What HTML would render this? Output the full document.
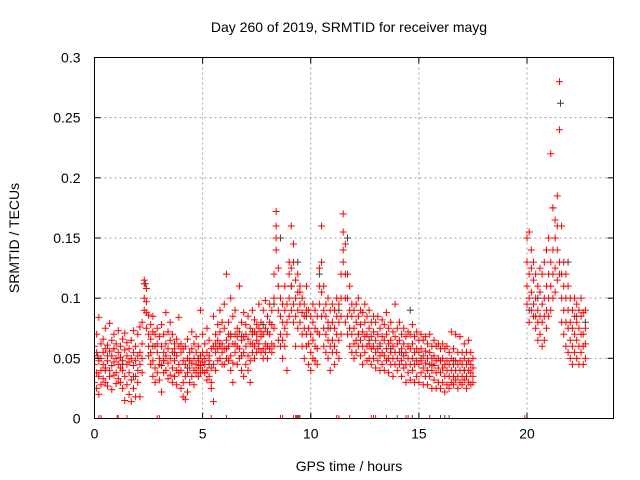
<!DOCTYPE html>
<html><head><meta charset="utf-8"><style>
html,body{margin:0;padding:0;background:#fff;}
svg{display:block;font-family:"Liberation Sans",sans-serif;}
</style></head><body>
<svg id="chart" width="640" height="480" viewBox="0 0 640 480">
<rect x="0" y="0" width="640" height="480" fill="#fff"/>
<text x="349" y="32" font-size="14" text-anchor="middle" fill="#000">Day 260 of 2019, SRMTID for receiver mayg</text>
<text x="349" y="471" font-size="14" text-anchor="middle" fill="#000">GPS time / hours</text>
<text x="19" y="238" font-size="14" text-anchor="middle" fill="#000" transform="rotate(-90 19 238)">SRMTID / TECUs</text>
<g id="grid"></g>
<g id="gray"></g>
<g id="red"></g>
<g id="axes"></g>
</svg>
<script>
// data (values in thousandths of TECU)
const xTicks=[0,5,10,15,20];
const yTicks=[0,0.05,0.1,0.15,0.2,0.25,0.3];
const yTickLabels=["0","0.05","0.1","0.15","0.2","0.25","0.3"];
const redHours=[0,0.1,0.2,0.3,0.4,0.5,0.6,0.7,0.8,0.9,1,1.1,1.2,1.3,1.4,1.5,1.6,1.7,1.8,1.9,2,2.1,2.2,2.3,2.4,2.5,2.6,2.7,2.8,2.9,3,3.1,3.2,3.3,3.4,3.5,3.6,3.7,3.8,3.9,4,4.1,4.2,4.3,4.4,4.5,4.6,4.7,4.8,4.9,5,5.1,5.2,5.3,5.4,5.5,5.6,5.7,5.8,5.9,6,6.1,6.2,6.3,6.4,6.5,6.6,6.7,6.8,6.9,7,7.1,7.2,7.3,7.4,7.5,7.6,7.7,7.8,7.9,8,8.1,8.2,8.3,8.4,8.5,8.6,8.7,8.8,8.9,9,9.1,9.2,9.3,9.4,9.5,9.6,9.7,9.8,9.9,10,10.1,10.2,10.3,10.4,10.5,10.6,10.7,10.8,10.9,11,11.1,11.2,11.3,11.4,11.5,11.6,11.7,11.8,11.9,12,12.1,12.2,12.3,12.4,12.5,12.6,12.7,12.8,12.9,13,13.1,13.2,13.3,13.4,13.5,13.6,13.7,13.8,13.9,14,14.1,14.2,14.3,14.4,14.5,14.6,14.7,14.8,14.9,15,15.1,15.2,15.3,15.4,15.5,15.6,15.7,15.8,15.9,16,16.1,16.2,16.3,16.4,16.5,16.6,16.7,16.8,16.9,17,17.1,17.2,17.3,17.4,17.5,20,20.1,20.2,20.3,20.4,20.5,20.6,20.7,20.8,20.9,21,21.1,21.2,21.3,21.4,21.5,21.6,21.7,21.8,21.9,22,22.1,22.2,22.3,22.4,22.5,22.6,22.7];
const redValues=[
[45,60,30,52],[38,55,70,25],[48,84,35,20],[50,40,62,28],[45,55,33,66],[58,42,75,30],[48,27,61,52],[40,79,35,56],[52,44,65,24],[47,58,36,70],
[50,38,62,29],[55,45,73,33],[42,60,30,51],[48,66,25,40],[57,35,71,15],[45,52,28,63],[38,58,20,47],[50,14,65,32],[44,55,25,73],[35,60,48,18],
[52,40,70,30],[55,45,76,18],[50,62,38,80],[115,100,112,90],[108,97,88,75],[86,70,60,52],[78,55,66,45],[72,48,85,35],[60,42,70,30],[55,75,38,62],
[50,68,32,45],[60,44,78,22],[55,38,70,48],[62,88,40,52],[58,46,72,33],[50,65,36,80],[55,42,70,30],[48,62,35,58],[52,40,66,28],[60,45,84,38],
[55,40,62,25],[48,30,58,18],[45,60,35,16],[50,38,66,22],[42,55,30,48],[46,72,35,58],[50,40,62,28],[45,55,38,68],[48,35,60,42],[52,44,90,38],
[47,70,40,55],[50,38,62,45],[55,40,75,32],[48,65,35,52],[42,58,30,25],[60,45,85,14],[55,70,40,62],[65,48,78,58],[60,90,50,72],[62,45,80,55],
[58,75,45,95],[65,50,120,58],[60,80,48,70],[68,52,100,40],[62,85,46,30],[70,55,90,62],[60,75,45,68],[72,58,110,50],[65,80,52,40],[68,55,88,35],
[60,78,45,70],[66,52,85,40],[62,75,48,30],[70,55,90,62],[72,60,82,50],[65,78,55,70],[75,58,95,62],[68,80,55,72],[70,58,90,50],[75,62,98,55],
[72,60,85,50],[70,95,58,80],[78,62,90,55],[75,120,60,100],[160,140,172,150],[110,125,90,65],[85,100,70,60],[80,95,65,50],[90,75,110,60],[95,80,70,40],
[120,130,100,85],[125,160,110,90],[130,145,95,80],[100,115,85,60],[120,105,90,75],[110,95,80,105],[100,88,70,60],[85,95,75,50],[90,110,70,60],[75,90,62,45],
[70,85,55,40],[65,80,50,95],[75,60,90,48],[72,58,85,45],[95,125,110,70],[130,160,105,85],[110,90,75,60],[85,70,95,55],[80,100,65,50],[90,75,60,40],
[80,95,65,55],[75,90,60,45],[85,70,100,55],[80,65,95,50],[100,85,70,120],[140,170,155,130],[120,145,100,80],[100,85,120,70],[90,75,110,60],[85,70,95,55],
[75,90,62,50],[80,65,95,55],[70,85,60,100],[78,65,90,52],[72,88,60,45],[80,68,95,55],[70,85,60,48],[75,62,90,50],[68,80,58,45],[72,60,85,50],
[65,80,55,42],[70,58,85,48],[62,75,52,40],[68,55,82,45],[65,78,52,40],[70,58,88,48],[62,75,50,38],[65,55,80,45],[60,72,50,35],[68,55,95,45],
[62,75,50,40],[65,55,80,45],[58,70,48,35],[62,52,75,42],[55,68,45,30],[60,50,72,38],[58,70,45,32],[62,50,78,40],[55,68,45,30],[58,48,72,35],
[55,65,45,30],[58,48,70,38],[52,65,42,28],[56,46,68,35],[50,62,40,28],[55,45,70,35],[50,60,40,25],[52,44,65,32],[48,60,38,25],[50,42,62,30],
[48,58,38,25],[50,42,62,30],[45,58,35,22],[48,40,60,28],[45,55,35,25],[50,40,72,30],[45,58,35,28],[48,40,70,32],[45,55,35,25],[48,40,68,30],
[45,55,35,28],[50,40,62,32],[45,55,35,25],[48,40,65,30],[45,55,38,28],[42,50,35,30],
[110,150,95,130],[120,155,100,80],[105,140,90,125],[115,95,130,85],[100,85,120,75],[90,110,80,65],[105,85,125,70],[95,120,80,60],[100,130,85,65],[110,90,140,75],
[120,150,100,85],[130,220,110,90],[140,175,120,100],[150,165,125,105],[140,185,160,115],[130,280,240,120],[120,160,100,80],[110,130,90,70],[100,120,80,60],[90,110,75,55],
[80,100,65,50],[75,90,60,45],[85,100,70,55],[80,95,65,50],[75,90,60,45],[85,100,70,55],[70,88,60,45],[75,90,62,50]];
const grayHours=[0.15,0.5,0.9,1.3,1.8,2.35,2.7,3.2,3.7,4.3,4.8,5.3,5.8,6.3,6.8,7.3,7.8,8.3,8.6,9.1,9.4,9.8,10.4,10.8,11.3,11.7,12.2,12.7,13.2,13.7,14.2,14.6,15.1,15.6,16.1,16.6,17.1,20.1,20.5,20.9,21.2,21.55,21.9,22.3,22.7];
const grayValues=[52,40,58,45,35,112,60,48,55,42,50,45,62,70,68,72,78,95,150,110,130,85,120,75,90,150,70,65,60,58,55,90,50,45,42,48,40,90,100,140,175,262,130,85,80];
const redZeroHours=[0.2,0.3,1.05,1.1,1.5,2.9,3.0,5.4,6.1,8.6,8.7,9.2,9.3,9.4,9.5,10.0,11.2,11.3,11.8,12.8,12.9,13.0,13.5,14.4,14.5,15.5,16.0,19.9,20.0];
const grayZeroHours=[9.35,9.45,14.0,14.7,16.2,16.4];

const L=94.5,R=613.5,T=57.5,B=418.5;
const xS=h=>L+(R-L)*h/24;
const yS=v=>B-(B-T)*v/0.3;
const NS="http://www.w3.org/2000/svg";
function mk(tag,attrs,parent){const e=document.createElementNS(NS,tag);for(const k in attrs)e.setAttribute(k,attrs[k]);parent.appendChild(e);return e;}
const grid=document.getElementById('grid'),axes=document.getElementById('axes');
xTicks.forEach((t,i)=>{
  const x=xS(t);
  if(t>0){const g=mk('line',{x1:x,y1:T,x2:x,y2:B,stroke:'#a0a0a0','stroke-dasharray':'2,3','stroke-width':1},grid);
  
  }
  mk('line',{x1:x,y1:B,x2:x,y2:B-6,stroke:'#000'},axes);
  mk('line',{x1:x,y1:T,x2:x,y2:T+6,stroke:'#000'},axes);
  const tx=mk('text',{x:x,y:B+20,'font-size':14,'text-anchor':'middle',fill:'#000'},axes);
  tx.textContent=String(t);
  
  
});
yTicks.forEach((t,i)=>{
  const y=yS(t);
  if(t>0&&t<0.3){const g=mk('line',{x1:L,y1:y,x2:R,y2:y,stroke:'#a0a0a0','stroke-dasharray':'2,3','stroke-width':1},grid);
  
  }
  mk('line',{x1:L,y1:y,x2:L+6,y2:y,stroke:'#000'},axes);
  mk('line',{x1:R,y1:y,x2:R-6,y2:y,stroke:'#000'},axes);
  const tx=mk('text',{x:L-14,y:y+5,'font-size':14,'text-anchor':'end',fill:'#000'},axes);
  tx.textContent=yTickLabels[i];
  
  
});
const frame=mk('rect',{x:L,y:T,width:R-L,height:B-T,fill:'none',stroke:'#000','stroke-width':1},axes);


function plus(parent,h,v,color){
  const x=xS(h),y=yS(v);
  const p=mk('path',{d:`M${x-3.5},${y}H${x+3.5}M${x},${y-3.5}V${y+3.5}`,stroke:color,'stroke-width':1,fill:'none'},parent);
  
  
}
const gG=document.getElementById('gray'),gR=document.getElementById('red');
grayHours.forEach((h,i)=>plus(gG,h,grayValues[i]/1000,'#404040'));
grayZeroHours.forEach(h=>plus(gG,h,0,'#404040'));
redHours.forEach((h,i)=>redValues[i].forEach(v=>plus(gR,h,v/1000,'#ff0000')));
redZeroHours.forEach(h=>plus(gR,h,0,'#ff0000'));
// clip zero markers below the axis
const cp=mk('clipPath',{id:'clip'},document.getElementById('chart'));
mk('rect',{x:L,y:T,width:R-L,height:B-T},cp);
gG.setAttribute('clip-path','url(#clip)');gR.setAttribute('clip-path','url(#clip)');
</script>
</body></html>
